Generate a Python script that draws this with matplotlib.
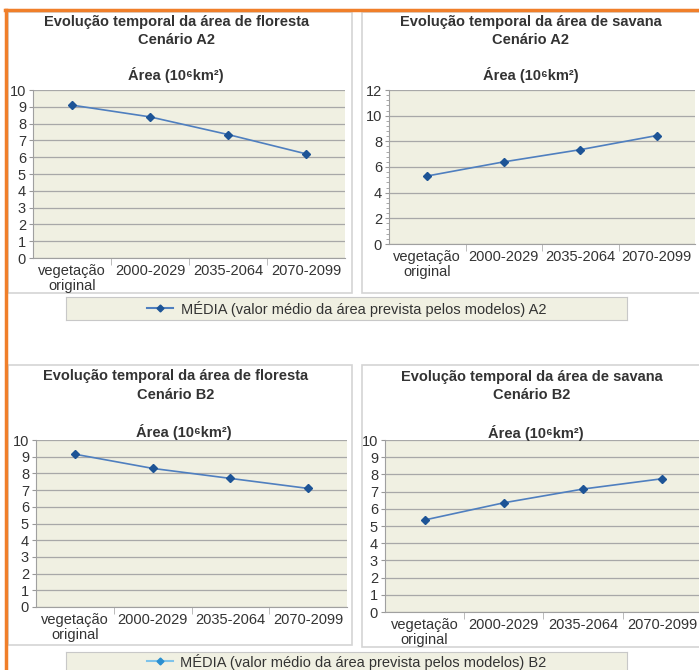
import matplotlib
matplotlib.use("Agg")
from matplotlib import pyplot as plt
from matplotlib.patches import Rectangle
from matplotlib.lines import Line2D
from matplotlib.ticker import MultipleLocator, FixedLocator

plt.rcParams['font.family'] = ['Liberation Sans', 'DejaVu Sans']

categories = ["vegetação\noriginal", "2000-2029", "2035-2064", "2070-2099"]
floresta_a2 = [9.1, 8.4, 7.35, 6.2]
savana_a2 = [5.3, 6.4, 7.35, 8.45]
floresta_b2 = [9.15, 8.3, 7.7, 7.1]
savana_b2 = [5.35, 6.35, 7.15, 7.75]

W, H = 699, 670
LINE = '#4f7fbf'
MARK = '#1d5496'
PLOT_BG = '#f0f0e2'
GRID = '#a8a8a8'
TXT = '#333333'

fig = plt.figure(figsize=(W / 100, H / 100), dpi=100)
fig.patch.set_facecolor('white')


def px(x0, y0, x1, y1):
    # pixel box (top-left origin) -> figure fraction rect
    return [x0 / W, 1 - y1 / H, (x1 - x0) / W, (y1 - y0) / H]


def panel_box(x0, y0, x1, y1):
    r = px(x0, y0, x1, y1)
    fig.patches.append(Rectangle((r[0], r[1]), r[2], r[3], transform=fig.transFigure,
                                 facecolor='white', edgecolor='#d4d4d4', lw=1.2, zorder=-5))


def chart(rect, values, ymax, ystep, minor=None):
    ax = fig.add_axes(rect)
    ax.set_facecolor(PLOT_BG)
    x = [i + 0.5 for i in range(len(values))]
    ax.plot(x, values, color=LINE, lw=1.2, marker='D', ms=4, mfc=MARK, mec=MARK, zorder=3)
    ax.set_xlim(0, len(categories))
    ax.set_ylim(0, ymax)
    ax.yaxis.set_major_locator(MultipleLocator(ystep))
    if minor:
        ax.yaxis.set_minor_locator(MultipleLocator(minor))
        ax.tick_params(axis='y', which='minor', length=2, color='#999999')
    ax.grid(axis='y', color=GRID, lw=0.9)
    ax.set_axisbelow(True)
    ax.set_xticks(x)
    ax.set_xticklabels(categories, fontsize=10.5, color=TXT, linespacing=1.1)
    ax.xaxis.set_minor_locator(FixedLocator(range(1, len(categories))))
    ax.tick_params(axis='x', which='major', length=0, pad=4)
    ax.tick_params(axis='x', which='minor', length=5, color='#b0b0b0', direction='out')
    ax.tick_params(axis='y', which='major', length=3, color='#999999', labelsize=10.5,
                   labelcolor=TXT, pad=2)
    for s in ['top', 'right']:
        ax.spines[s].set_visible(False)
    ax.spines['left'].set_color('#a0a0a0')
    ax.spines['bottom'].set_color('#a0a0a0')
    return ax


def titles(cx, y1, y2, ya, especie, cenario, cxa):
    fig.text(cx / W, 1 - y1 / H, "Evolução temporal da área de " + especie,
             ha='center', va='center', fontsize=10.5, fontweight='bold', color=TXT)
    fig.text(cx / W, 1 - y2 / H, "Cenário " + cenario,
             ha='center', va='center', fontsize=10.5, fontweight='bold', color=TXT)
    fig.text(cxa / W, 1 - ya / H, "Área (10⁶km²)",
             ha='center', va='center', fontsize=10.5, fontweight='bold', color=TXT)


def legend_box(rect, label, color, mcolor):
    lax = fig.add_axes(rect)
    lax.set_facecolor(PLOT_BG)
    lax.set_xticks([])
    lax.set_yticks([])
    for s in lax.spines.values():
        s.set_color('#c8c8c8')
    h = Line2D([], [], color=color, lw=1.5, marker='D', ms=3.5, mfc=mcolor, mec=mcolor)
    lax.legend(handles=[h], labels=[label], loc='center', frameon=False, fontsize=10.5,
               handlelength=1.8, handletextpad=0.5, labelcolor=TXT,
               borderpad=0, borderaxespad=0)


# white panels
panel_box(8, 12, 352, 293)
panel_box(362, 12, 705, 293)
panel_box(8, 365, 352, 645)
panel_box(362, 365, 705, 647)

chart(px(33, 90, 345, 258), floresta_a2, 10, 1)
chart(px(389, 90, 695, 244), savana_a2, 12, 2, minor=0.4)
chart(px(36, 440, 347, 607), floresta_b2, 10, 1)
chart(px(385, 440, 702, 612), savana_b2, 10, 1)

titles(177, 22, 40, 75, "floresta", "A2", 176)
titles(531, 22, 40, 75, "savana", "A2", 531)
titles(176, 376, 395, 432, "floresta", "B2", 184)
titles(532, 377, 395, 433, "savana", "B2", 536)

legend_box(px(66, 297, 627, 320), "MÉDIA (valor médio da área prevista pelos modelos) A2",
           LINE, MARK)
legend_box(px(66, 652, 627, 671), "MÉDIA (valor médio da área prevista pelos modelos) B2",
           '#7ec3ea', '#2a8fd0')

# orange frame on left and top
fig.add_artist(Line2D([5.5 / W, 5.5 / W], [0, 1 - 10 / H], transform=fig.transFigure,
                      color='#f07f2a', lw=2.5))
fig.add_artist(Line2D([4.5 / W, 1], [1 - 10 / H, 1 - 10 / H], transform=fig.transFigure,
                      color='#f07f2a', lw=2.5))

plt.savefig('out.png', dpi=100)
plt.close(fig)
